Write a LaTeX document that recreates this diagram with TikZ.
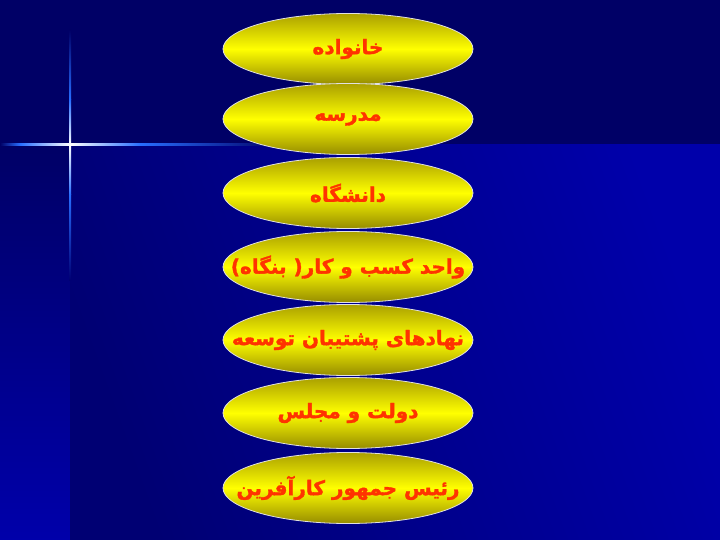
\documentclass[tikz,border=0pt]{standalone}
\usepackage{fontspec}
\usetikzlibrary{shapes.geometric}
\newfontfamily\arabicfont[Script=Arabic, FakeBold=1.6]{DejaVu Sans Bold}
\TeXXeTstate=1
\definecolor{navytop}{RGB}{0,0,102}
\definecolor{navydark}{RGB}{0,0,115}
\definecolor{bluebright}{RGB}{0,0,170}
\definecolor{olivetop}{RGB}{170,160,0}
\definecolor{olivebot}{RGB}{150,140,0}
\definecolor{txtred}{RGB}{255,51,0}
\definecolor{rayblue}{RGB}{40,110,255}
\definecolor{rimgray}{RGB}{225,225,225}
\tikzset{
  ell/.style={ellipse, minimum width=250pt, minimum height=71pt, inner sep=0pt,
    draw=rimgray, line width=0.8pt,
    top color=olivetop, bottom color=olivebot, middle color=yellow},
  lbl/.style={text=txtred, inner sep=0pt,
    font=\arabicfont\fontsize{20}{24}\selectfont},
}
\begin{document}
\begin{tikzpicture}[x=1pt,y=-1pt]
\useasboundingbox (0,0) rectangle (720,540);
% background
\fill[navytop] (0,0) rectangle (720,146);
\shade[top color=navytop, bottom color=bluebright] (0,145) rectangle (70,540);
\shade[top color=bluebright, bottom color=navydark, shading angle=-70] (70,145) rectangle (720,540);
% star flare
\shade[left color=navytop, right color=rayblue] (0,144) rectangle (20,146);
\shade[left color=rayblue, right color=white] (20,144) rectangle (70,146);
\shade[left color=white, right color=rayblue] (70,144) rectangle (140,146);
\shade[left color=rayblue, right color=navytop] (140,144) rectangle (280,146);
\shade[top color=navytop, bottom color=rayblue] (69,30) rectangle (71,100);
\shade[top color=rayblue, bottom color=white] (69,100) rectangle (71,145);
\shade[top color=white, bottom color=rayblue] (69,145) rectangle (71,195);
\shade[top color=rayblue, bottom color=navydark] (69,195) rectangle (71,280);
% ellipses
\node[ell] (n1) at (348,49) {};
\node[ell] (n2) at (348,119) {};
\node[ell] (n3) at (348,193) {};
\node[ell] (n4) at (348,267) {};
\node[ell] (n5) at (348,340) {};
\node[ell] (n6) at (348,413) {};
\node[ell] (n7) at (348,488) {};
\node[lbl] (t1) at (n1) {\beginR خانواده\endR};
\node[lbl] (t2) at (n2) {\beginR مدرسه\endR};
\node[lbl] (t3) at (n3) {\beginR دانشگاه\endR};
\node[lbl] (t4) at (n4) {\beginR واحد کسب و کار( بنگاه)\endR};
\node[lbl] (t5) at (n5) {\beginR نهادهای پشتیبان توسعه\endR};
\node[lbl] (t6) at (n6) {\beginR دولت و مجلس\endR};
\node[lbl] (t7) at (n7) {\beginR رئیس جمهور کارآفرین\endR};
\end{tikzpicture}
\end{document}
